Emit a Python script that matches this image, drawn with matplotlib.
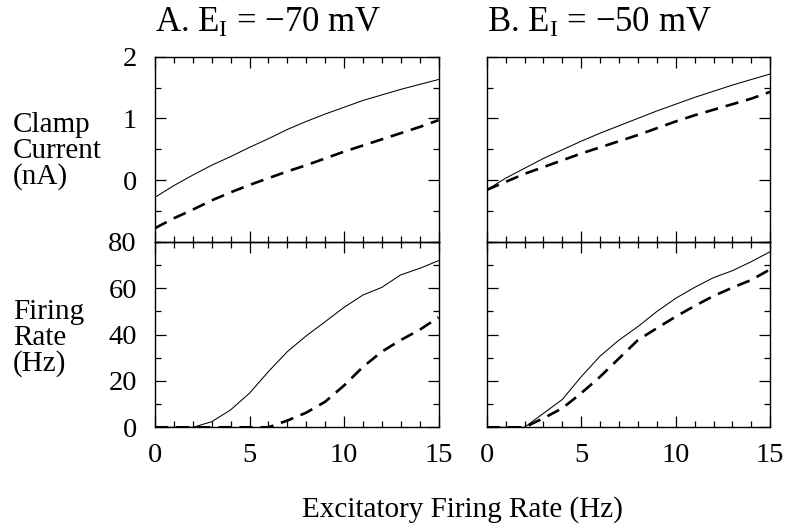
import matplotlib
matplotlib.use("Agg")
import matplotlib.pyplot as plt
from matplotlib.ticker import MultipleLocator

plt.rcParams['font.family'] = ['Liberation Serif', 'DejaVu Serif']
plt.rcParams['mathtext.fontset'] = 'custom'
plt.rcParams['mathtext.rm'] = 'Liberation Serif'
plt.rcParams['mathtext.it'] = 'Liberation Serif:italic'

# ---- data ----
exc_rate = list(range(16))  # Hz

clamp_A_solid = [-0.28, -0.09, 0.08, 0.24, 0.38, 0.53, 0.67, 0.82, 0.95, 1.07, 1.18, 1.29, 1.38, 1.47, 1.55, 1.63]
clamp_A_dash = [-0.78, -0.62, -0.48, -0.33, -0.20, -0.08, 0.03, 0.14, 0.24, 0.35, 0.46, 0.56, 0.66, 0.76, 0.86, 0.97]
clamp_B_solid = [-0.16, 0.03, 0.19, 0.35, 0.49, 0.63, 0.76, 0.88, 1.00, 1.12, 1.23, 1.34, 1.44, 1.54, 1.63, 1.72]
clamp_B_dash = [-0.16, -0.03, 0.10, 0.21, 0.32, 0.43, 0.53, 0.63, 0.73, 0.84, 0.95, 1.05, 1.14, 1.23, 1.32, 1.43]

rate_A_solid = [0, 0, 0, 2.4, 7.5, 14.7, 24, 32.6, 39.4, 45.5, 51.7, 57, 60.3, 65.7, 68.5, 71.8]
rate_A_dash = [0, 0, 0, 0, 0, 0, 0, 2.9, 6.3, 11, 18, 26, 32.6, 37.6, 42, 47.4]
rate_B_solid = [0, 0, 0, 6, 12, 21.8, 30.7, 37.6, 43.4, 49.9, 55.6, 60.3, 64.5, 67.5, 71.4, 75.7]
rate_B_dash = [0, 0, 0, 3.9, 8.2, 14.7, 21.8, 29.7, 37.6, 42.7, 47.7, 52.3, 56.6, 60.2, 63.5, 68.1]

titles = ["A. E$_{\\mathrm{I}}$ = \u221270 mV", "B. E$_{\\mathrm{I}}$ = \u221250 mV"]
ylabel_top = "Clamp\nCurrent\n(nA)"
ylabel_bot = "Firing\nRate\n(Hz)"
xlabel = "Excitatory Firing Rate (Hz)"

fig = plt.figure(figsize=(7.85, 5.25), dpi=100)
W, H = 785.0, 525.0
lefts = [155 / W, 486.7 / W]
width = 283.5 / W
top_bottom = 1 - 241.7 / H
top_h = 185.0 / H
bot_bottom = 1 - 427.3 / H
bot_h = 185.6 / H

FS = 20.5
solid_kw = dict(color='black', lw=0.75, solid_joinstyle='miter')
dash_kw = dict(color='black', lw=1.9, linestyle=(0, (5, 3)))

data_top = [(clamp_A_solid, clamp_A_dash), (clamp_B_solid, clamp_B_dash)]
data_bot = [(rate_A_solid, rate_A_dash), (rate_B_solid, rate_B_dash)]

def style(ax):
    ax.tick_params(which='both', direction='in', top=True, right=True,
                   labelsize=FS, width=0.9)
    ax.tick_params(which='major', length=8)
    ax.tick_params(axis='x', which='major', pad=11)
    ax.tick_params(axis='y', which='major', pad=13)
    ax.tick_params(which='minor', length=4)
    for s in ax.spines.values():
        s.set_linewidth(1.0)
    ax.xaxis.set_major_locator(MultipleLocator(5))
    ax.xaxis.set_minor_locator(MultipleLocator(1))
    ax.set_xlim(0, 15)

for i in range(2):
    axt = fig.add_axes([lefts[i], top_bottom, width, top_h])
    axb = fig.add_axes([lefts[i], bot_bottom, width, bot_h])
    s, d = data_top[i]
    axt.plot(exc_rate, s, **solid_kw)
    axt.plot(exc_rate, d, **dash_kw)
    s, d = data_bot[i]
    axb.plot(exc_rate, s, **solid_kw)
    axb.plot(exc_rate, d, **dash_kw)
    for ax in (axt, axb):
        style(ax)
        ax.patch.set_alpha(0)
    axt.set_ylim(-1, 2)
    axt.yaxis.set_major_locator(MultipleLocator(1))
    axt.yaxis.set_minor_locator(MultipleLocator(0.5))
    axt.set_yticks([0, 1, 2])
    axt.tick_params(labelbottom=False)
    axb.set_ylim(0, 80)
    axb.yaxis.set_major_locator(MultipleLocator(20))
    axb.yaxis.set_minor_locator(MultipleLocator(10))
    if i == 1:
        axt.tick_params(labelleft=False)
        axb.tick_params(labelleft=False)
    axt.text(0, 1.133, titles[i], transform=axt.transAxes, fontsize=25,
             ha='left', va='baseline')

fig.text(13 / W, 1 - 151 / H, ylabel_top, fontsize=21, ha='left', va='center',
         linespacing=1.0)
fig.text(13 / W, 1 - 338 / H, ylabel_bot, fontsize=21, ha='left', va='center',
         linespacing=1.0)
fig.text(462 / W, 1 - 517 / H, xlabel, fontsize=21, ha='center', va='baseline')

fig.savefig("out.png", dpi=100)
